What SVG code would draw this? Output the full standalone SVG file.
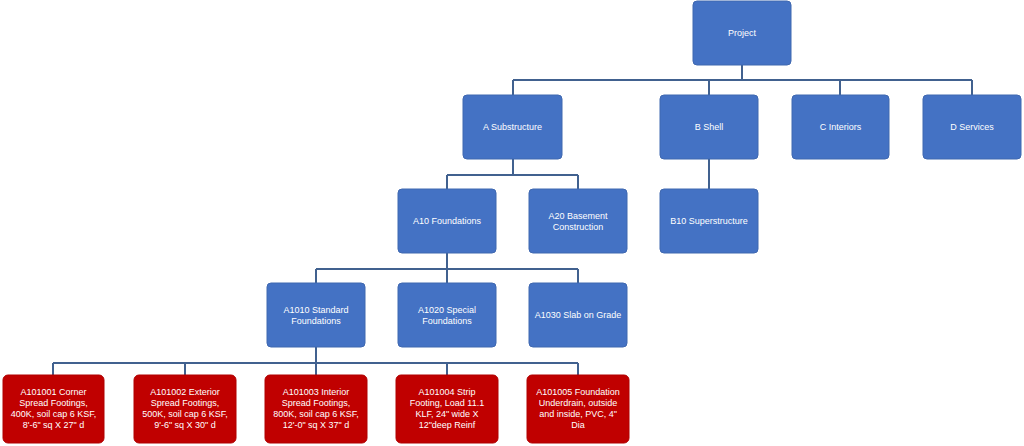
<svg xmlns="http://www.w3.org/2000/svg" width="1024" height="446" viewBox="0 0 1024 446">
<style>
.b{fill:#4472C4;stroke:#3F68B0;stroke-width:1}
.r{fill:#C00000;stroke:#B00000;stroke-width:1}
text{font-family:"Liberation Sans","Open Sans",Arial,sans-serif;font-size:9px;fill:#FFFFFF;text-anchor:middle}
.c{fill:none;stroke:#41618F;stroke-width:2}
</style>
<rect width="1024" height="446" fill="#FFFFFF"/>
<g id="connectors">
<path class="c" d="M742 65V80M513 80H972M513 80V95M709 80V95M840 80V95M972 80V95"/>
<path class="c" d="M513 159V175M447 175H578M447 175V189M578 175V189"/>
<path class="c" d="M709 159V189"/>
<path class="c" d="M447 253V269M316 269H578M316 269V283M447 269V283M578 269V283"/>
<path class="c" d="M316 347V363M53 363H578M53 363V375M185 363V375M316 363V375M447 363V375M578 363V375"/>
</g>
<g id="project"><rect class="b" x="693" y="1" width="98" height="64" rx="4"/><text x="742" y="36">Project</text></g>
<g id="a-substructure"><rect class="b" x="463" y="95" width="99" height="64" rx="4"/><text x="512.5" y="130">A Substructure</text></g>
<g id="b-shell"><rect class="b" x="660" y="95" width="98" height="64" rx="4"/><text x="709" y="130">B Shell</text></g>
<g id="c-interiors"><rect class="b" x="792" y="95" width="97" height="64" rx="4"/><text x="840.5" y="130">C Interiors</text></g>
<g id="d-services"><rect class="b" x="923" y="95" width="98" height="64" rx="4"/><text x="972" y="130">D Services</text></g>
<g id="a10"><rect class="b" x="398" y="189" width="98" height="64" rx="4"/><text x="447" y="224">A10 Foundations</text></g>
<g id="a20"><rect class="b" x="529" y="189" width="98" height="64" rx="4"/><text x="578" y="219">A20 Basement</text><text x="578" y="230">Construction</text></g>
<g id="b10"><rect class="b" x="660" y="189" width="98" height="64" rx="4"/><text x="709" y="224">B10 Superstructure</text></g>
<g id="a1010"><rect class="b" x="267" y="283" width="98" height="64" rx="4"/><text x="316" y="313">A1010 Standard</text><text x="316" y="324">Foundations</text></g>
<g id="a1020"><rect class="b" x="398" y="283" width="98" height="64" rx="4"/><text x="447" y="313">A1020 Special</text><text x="447" y="324">Foundations</text></g>
<g id="a1030"><rect class="b" x="529" y="283" width="98" height="64" rx="4"/><text x="578" y="318">A1030 Slab on Grade</text></g>
<g id="a101001"><rect class="r" x="3" y="375" width="101" height="68" rx="5"/><text x="53.5" y="395">A101001 Corner</text><text x="53.5" y="406">Spread Footings,</text><text x="53.5" y="417">400K, soil cap 6 KSF,</text><text x="53.5" y="428">8'-6" sq X 27" d</text></g>
<g id="a101002"><rect class="r" x="134" y="375" width="102" height="68" rx="5"/><text x="185" y="395">A101002 Exterior</text><text x="185" y="406">Spread Footings,</text><text x="185" y="417">500K, soil cap 6 KSF,</text><text x="185" y="428">9'-6" sq X 30" d</text></g>
<g id="a101003"><rect class="r" x="265" y="375" width="102" height="68" rx="5"/><text x="316" y="395">A101003 Interior</text><text x="316" y="406">Spread Footings,</text><text x="316" y="417">800K, soil cap 6 KSF,</text><text x="316" y="428">12'-0" sq X 37" d</text></g>
<g id="a101004"><rect class="r" x="396" y="375" width="102" height="68" rx="5"/><text x="447" y="395">A101004 Strip</text><text x="447" y="406">Footing, Load 11.1</text><text x="447" y="417">KLF, 24" wide X</text><text x="447" y="428">12"deep Reinf</text></g>
<g id="a101005"><rect class="r" x="527" y="375" width="102" height="68" rx="5"/><text x="578" y="395">A101005 Foundation</text><text x="578" y="406">Underdrain, outside</text><text x="578" y="417">and inside, PVC, 4"</text><text x="578" y="428">Dia</text></g>
</svg>
